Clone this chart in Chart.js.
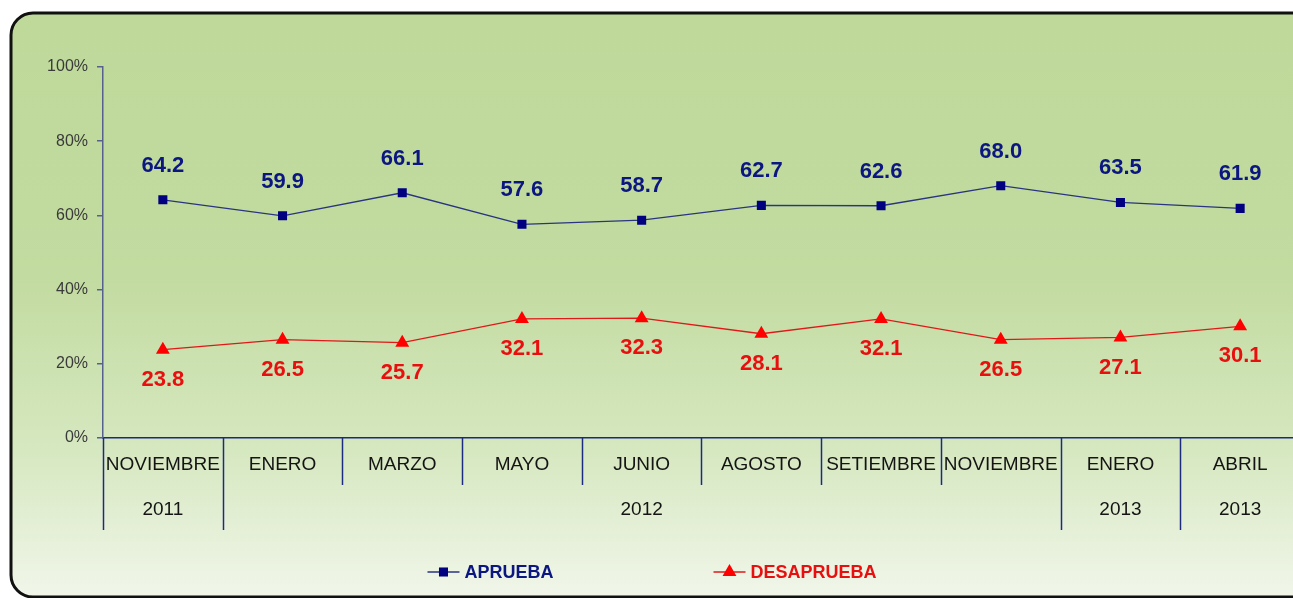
<!DOCTYPE html>
<html><head><meta charset="utf-8">
<script src="https://cdn.jsdelivr.net/npm/chart.js@4.4.1/dist/chart.umd.min.js"></script>
<style>
html,body{margin:0;padding:0;overflow:hidden;background:#fff;width:1293px;height:598px}
canvas{display:block}
</style></head>
<body><canvas id="c" width="1320" height="598"></canvas>
<script>
const months = ['NOVIEMBRE','ENERO','MARZO','MAYO','JUNIO','AGOSTO','SETIEMBRE','NOVIEMBRE','ENERO','ABRIL'];
const yearLabels = ['2011','2012','2013','2013'];
const yearSpans = [1,7,1,1];
const aprueba = [64.2,59.9,66.1,57.6,58.7,62.7,62.6,68.0,63.5,61.9];
const desaprueba = [23.8,26.5,25.7,32.1,32.3,28.1,32.1,26.5,27.1,30.1];
const yTicks = [0,20,40,60,80,100];

const FONT = "'Liberation Sans', Arial, sans-serif";
const NAVY = '#0b1680';
const RED = '#ff0000';

const framePlugin = {
  id:'frame',
  beforeDraw(chart){
    const ctx = chart.ctx;
    const x0=11,y0=13,x1=1360,y1=597,r=22;
    ctx.save();
    ctx.beginPath();
    ctx.moveTo(x0+r,y0);
    ctx.lineTo(x1-r,y0);
    ctx.arcTo(x1,y0,x1,y0+r,r);
    ctx.lineTo(x1,y1-r);
    ctx.arcTo(x1,y1,x1-r,y1,r);
    ctx.lineTo(x0+r,y1);
    ctx.arcTo(x0,y1,x0,y1-r,r);
    ctx.lineTo(x0,y0+r);
    ctx.arcTo(x0,y0,x0+r,y0,r);
    ctx.closePath();
    const g = ctx.createLinearGradient(0,y0,0,y1);
    g.addColorStop(0,'#bed99a');
    g.addColorStop(0.45,'#c2dba0');
    g.addColorStop(0.75,'#d6e8c0');
    g.addColorStop(1,'#f1f6ea');
    ctx.fillStyle = g;
    ctx.fill();
    ctx.lineWidth = 3;
    ctx.strokeStyle = '#111';
    ctx.stroke();
    ctx.restore();
  }
};

const axisPlugin = {
  id:'catAxis',
  afterDraw(chart){
    const ctx = chart.ctx;
    const xs = chart.scales.x;
    const step = xs.getPixelForValue(1) - xs.getPixelForValue(0);
    const top = chart.chartArea.bottom;
    const longB = [0];
    let acc = 0;
    yearSpans.forEach(s=>{acc+=s;longB.push(acc);});
    ctx.save();
    ctx.strokeStyle = '#1c2a80';
    ctx.lineWidth = 1.5;
    for(let i=0;i<=months.length;i++){
      const bx = Math.round(xs.getPixelForValue(0) - step/2 + i*step)+0.5;
      const len = longB.includes(i) ? 92 : 47;
      ctx.beginPath();
      ctx.moveTo(bx, top);
      ctx.lineTo(bx, top+len);
      ctx.stroke();
    }
    ctx.fillStyle = '#141414';
    ctx.font = '19px ' + FONT;
    ctx.textAlign = 'center';
    ctx.textBaseline = 'middle';
    months.forEach((m,i)=>{
      ctx.fillText(m, xs.getPixelForValue(i), top+27);
    });
    let start = 0;
    yearLabels.forEach((y,k)=>{
      const a = xs.getPixelForValue(start), b = xs.getPixelForValue(start+yearSpans[k]-1);
      ctx.fillText(y, (a+b)/2, top+72);
      start += yearSpans[k];
    });
    ctx.restore();
  }
};

const labelPlugin = {
  id:'dataLabels',
  afterDatasetsDraw(chart){
    const ctx = chart.ctx;
    ctx.save();
    ctx.font = 'bold 22px ' + FONT;
    ctx.textAlign = 'center';
    ctx.textBaseline = 'middle';
    chart.data.datasets.forEach((ds,di)=>{
      const meta = chart.getDatasetMeta(di);
      ctx.fillStyle = ds.labelColor;
      meta.data.forEach((pt,i)=>{
        const off = ds.labelAbove ? -34 : 30;
        ctx.fillText(ds.data[i].toFixed(1), pt.x, pt.y+off);
      });
    });
    ctx.restore();
  }
};

const legendPlugin = {
  id:'customLegend',
  afterDraw(chart){
    const ctx = chart.ctx;
    const y = 572;
    ctx.save();
    ctx.font = 'bold 18px ' + FONT;
    ctx.textBaseline = 'middle';
    const items = chart.data.datasets;
    const gap = 160, icon = 32, tp = 5;
    const widths = items.map(d=>icon+tp+ctx.measureText(d.label).width);
    const total = widths.reduce((a,b)=>a+b,0) + gap*(items.length-1);
    let x = 652 - total/2;
    items.forEach((d,i)=>{
      ctx.strokeStyle = d.borderColor;
      ctx.lineWidth = 1.5;
      ctx.beginPath(); ctx.moveTo(x,y); ctx.lineTo(x+icon,y); ctx.stroke();
      ctx.fillStyle = d.pointBackgroundColor;
      ctx.beginPath();
      if(d.pointStyle==='rect'){ const s=d.pointRadius*Math.SQRT1_2; ctx.rect(x+icon/2-s,y-s,2*s,2*s);} 
      else { const r=d.pointRadius; const cx=x+icon/2; ctx.moveTo(cx,y-r); ctx.lineTo(cx+r*0.866,y+r/2); ctx.lineTo(cx-r*0.866,y+r/2); ctx.closePath(); }
      ctx.fill();
      ctx.fillStyle = d.labelColor;
      ctx.textAlign = 'left';
      ctx.fillText(d.label, x+icon+tp, y+1);
      x += widths[i] + gap;
    });
    ctx.restore();
  }
};

new Chart(document.getElementById('c'), {
  type:'line',
  data:{
    labels: months,
    datasets:[
      {label:'APRUEBA', data:aprueba, borderColor:'#2a3480', borderWidth:1.3,
       pointStyle:'rect', pointRadius:6.4, pointHoverRadius:6.4,
       pointBackgroundColor:'#000080', pointBorderColor:'#000080', pointBorderWidth:0,
       tension:0, labelColor:NAVY, labelAbove:true},
      {label:'DESAPRUEBA', data:desaprueba, borderColor:'#e01818', borderWidth:1.3,
       pointStyle:'triangle', pointRadius:8, pointHoverRadius:8,
       pointBackgroundColor:RED, pointBorderColor:RED, pointBorderWidth:0,
       tension:0, labelColor:'#e80f0f', labelAbove:false}
    ]
  },
  options:{
    responsive:false,
    animation:false,
    events:[],
    layout:{padding:{left:0,right:20,top:67,bottom:0}},
    plugins:{legend:{display:false}, tooltip:{enabled:false}},
    scales:{
      x:{
        offset:true,
        grid:{display:false, drawTicks:false, offset:true},
        border:{color:'#1c2a80', width:1.5},
        ticks:{display:false},
        afterFit(s){ s.height = 160; }
      },
      y:{
        min:0, max:100,
        afterBuildTicks(s){ s.ticks = yTicks.map(v=>({value:v})); },
        ticks:{callback:v=>v+'%', color:'#3a3a3a', font:{family:FONT, size:16}, padding:9},
        grid:{drawOnChartArea:false, drawTicks:true, tickLength:6, color:'#55608f', lineWidth:1.5},
        border:{color:'#55608f', width:1.5},
        afterFit(s){ s.width = 103; }
      }
    }
  },
  plugins:[framePlugin, axisPlugin, labelPlugin, legendPlugin]
});
</script>
</body></html>
